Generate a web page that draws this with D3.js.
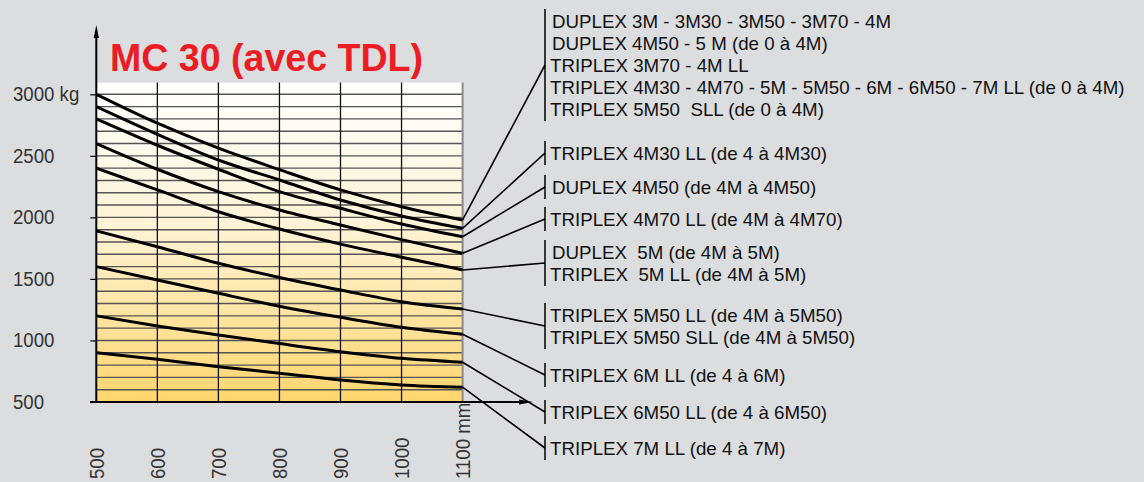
<!DOCTYPE html>
<html><head><meta charset="utf-8">
<script src="https://cdn.jsdelivr.net/npm/d3@7"></script>
<style>
body{margin:0;background:#DCDDDF;}
svg{display:block;}
text{white-space:pre;}
</style>
</head><body>
<svg id="chart" width="1144" height="482"></svg>
<script>
// ---------- data ----------
const reach = [500, 600, 700, 800, 900, 1000, 1100];           // mm
const xTickLabels = ["500", "600", "700", "800", "900", "1000", "1100 mm"];
const yTicks = [500, 1000, 1500, 2000, 2500, 3000];
const yTickLabels = ["500", "1000", "1500", "2000", "2500", "3000 kg"];
const gridLoads = d3.range(600, 3001, 100);

const load1 = [3000, 2765, 2562, 2388, 2223, 2087, 1979];
const load2 = [2900, 2675, 2466, 2304, 2141, 2011, 1911];
const load3 = [2800, 2586, 2391, 2209, 2074, 1946, 1843];
const load4 = [2600, 2391, 2209, 2060, 1938, 1819, 1708];
const load5 = [2400, 2223, 2046, 1905, 1783, 1676, 1573];
const load6 = [1890, 1762, 1627, 1512, 1410, 1315, 1256];
const load7 = [1600, 1491, 1383, 1278, 1188, 1107, 1050];
const load8 = [1200, 1118, 1045, 975, 909, 855, 823];
const load9 = [900, 847, 787, 734, 679, 639, 620];
const series = [load1, load2, load3, load4, load5, load6, load7, load8, load9];

const labels1 = ["DUPLEX 3M - 3M30 - 3M50 - 3M70 - 4M", "DUPLEX 4M50 - 5 M (de 0 à 4M)", "TRIPLEX 3M70 - 4M LL", "TRIPLEX 4M30 - 4M70 - 5M - 5M50 - 6M - 6M50 - 7M LL (de 0 à 4M)", "TRIPLEX 5M50  SLL (de 0 à 4M)"];
const labels2 = ["TRIPLEX 4M30 LL (de 4 à 4M30)"];
const labels3 = ["DUPLEX 4M50 (de 4M à 4M50)"];
const labels4 = ["TRIPLEX 4M70 LL (de 4M à 4M70)"];
const labels5 = ["DUPLEX  5M (de 4M à 5M)", "TRIPLEX  5M LL (de 4M à 5M)"];
const labels6 = ["TRIPLEX 5M50 LL (de 4M à 5M50)", "TRIPLEX 5M50 SLL (de 4M à 5M50)"];
const labels7 = ["TRIPLEX 6M LL (de 4 à 6M)"];
const labels8 = ["TRIPLEX 6M50 LL (de 4 à 6M50)"];
const labels9 = ["TRIPLEX 7M LL (de 4 à 7M)"];
const labelGroups = [labels1, labels2, labels3, labels4, labels5, labels6, labels7, labels8, labels9];
const title = "MC 30 (avec TDL)";

// ---------- layout ----------
const groupFirstY = [21, 153, 187, 219, 252, 315, 375, 412, 448]; // centre of first text line
const lineStep = 22;
const bracketX = 545, textX = 550;
const FONT = "Liberation Sans, Arial, sans-serif";

const svg = d3.select("#chart");
const x = d3.scaleLinear().domain([500, 1100]).range([96.3, 462.6]);
const y = d3.scaleLinear().domain([500, 3000]).range([402, 94.3]);
const yTop = y(3095);

function condense(k) {
  return sel => sel.each(function () {
    const w = this.getComputedTextLength();
    d3.select(this).attr("textLength", w * k).attr("lengthAdjust", "spacingAndGlyphs");
  });
}

// gradient
const defs = svg.append("defs");
const grad = defs.append("linearGradient").attr("id", "bg").attr("x1", 0).attr("y1", 0).attr("x2", 0).attr("y2", 1);
grad.append("stop").attr("offset", "0%").attr("stop-color", "#FFFFFF");
grad.append("stop").attr("offset", "45%").attr("stop-color", "#FFF3D6");
grad.append("stop").attr("offset", "100%").attr("stop-color", "#FFD66E");

svg.append("rect").attr("x", x(500)).attr("y", yTop)
  .attr("width", x(1100) - x(500)).attr("height", y(500) - yTop)
  .attr("fill", "url(#bg)");

// horizontal grid
svg.append("g").selectAll("line").data(gridLoads).join("line")
  .attr("x1", x(500)).attr("x2", x(1100))
  .attr("y1", d => y(d)).attr("y2", d => y(d))
  .attr("stroke", "#555").attr("stroke-width", 1.4);
// vertical grid
svg.append("g").selectAll("line").data(reach.slice(1, -1)).join("line")
  .attr("x1", d => x(d)).attr("x2", d => x(d))
  .attr("y1", yTop).attr("y2", y(500))
  .attr("stroke", "#111").attr("stroke-width", 1.3);
svg.append("line").attr("x1", x(1100)).attr("x2", x(1100)).attr("y1", yTop).attr("y2", y(500))
  .attr("stroke", "#8a8a8a").attr("stroke-width", 2);

// curves
const line = d3.line().x((d, i) => x(reach[i])).y(d => y(d)).curve(d3.curveMonotoneX);
svg.append("g").selectAll("path").data(series).join("path")
  .attr("d", line).attr("fill", "none").attr("stroke", "#000").attr("stroke-width", 3);

// axes lines with arrows
svg.append("line").attr("x1", x(500)).attr("x2", x(500)).attr("y1", y(500) + 1).attr("y2", 34)
  .attr("stroke", "#000").attr("stroke-width", 2);
svg.append("path").attr("d", `M${x(500)},25 L${x(500) - 2.6},38 L${x(500) + 2.6},38 Z`).attr("fill", "#000");
svg.append("line").attr("x1", 90).attr("x2", 522).attr("y1", y(500)).attr("y2", y(500))
  .attr("stroke", "#000").attr("stroke-width", 2.2);
svg.append("path").attr("d", `M533,${y(500)} L519,${y(500) - 2.6} L519,${y(500) + 2.6} Z`).attr("fill", "#000");

// y axis ticks + labels
const yAxis = svg.append("g").attr("transform", `translate(${x(500)},0)`)
  .call(d3.axisLeft(y).tickValues(yTicks).tickSize(6).tickFormat((d, i) => yTickLabels[i]));
yAxis.select(".domain").remove();
yAxis.selectAll(".tick line").attr("stroke", "#000").attr("stroke-width", 1.2);
yAxis.selectAll(".tick text").attr("x", 13 - x(500)).attr("text-anchor", "start")
  .attr("font-family", FONT).attr("font-size", 19.5).attr("fill", "#333").call(condense(0.955));

// x axis labels
const xAxis = svg.append("g").attr("transform", `translate(0,${y(500)})`)
  .call(d3.axisBottom(x).tickValues(reach).tickSize(0).tickFormat((d, i) => xTickLabels[i]));
xAxis.select(".domain").remove();
xAxis.selectAll(".tick text")
  .attr("transform", "rotate(-90)")
  .attr("x", -(479 - y(500))).attr("y", 0).attr("dy", "0.36em")
  .attr("text-anchor", "start")
  .attr("font-family", FONT).attr("font-size", 19.5).attr("fill", "#333").call(condense(0.955));

// title
svg.append("text").attr("x", 110).attr("y", 71).text(title)
  .attr("font-family", FONT).attr("font-weight", "bold")
  .attr("font-size", 38.5).attr("fill", "#EC1C24")
  .attr("textLength", 313).attr("lengthAdjust", "spacingAndGlyphs");

// leaders + labels
const lab = svg.append("g");
labelGroups.forEach((lines, gi) => {
  const y0 = groupFirstY[gi];
  const yLast = y0 + (lines.length - 1) * lineStep;
  const top = y0 - 12, bot = yLast + 12;
  const mid = lines.length === 5 ? y0 + 44 : (y0 + yLast) / 2;
  const s = series[gi];
  lab.append("line").attr("x1", bracketX).attr("x2", bracketX).attr("y1", top).attr("y2", bot)
    .attr("stroke", "#000").attr("stroke-width", 1.5);
  lab.append("line").attr("x1", x(1100)).attr("y1", y(s[s.length - 1]))
    .attr("x2", bracketX).attr("y2", mid)
    .attr("stroke", "#000").attr("stroke-width", 1.6);
  lines.forEach((t, li) => {
    lab.append("text").attr("x", textX + (t.startsWith("DUPLEX") ? 2 : 0))
      .attr("y", y0 + li * lineStep).attr("dy", "0.35em").text(t)
      .attr("font-family", FONT).attr("font-size", 19)
      .attr("fill", "#111").call(condense(0.985));
  });
});
</script>
</body></html>
